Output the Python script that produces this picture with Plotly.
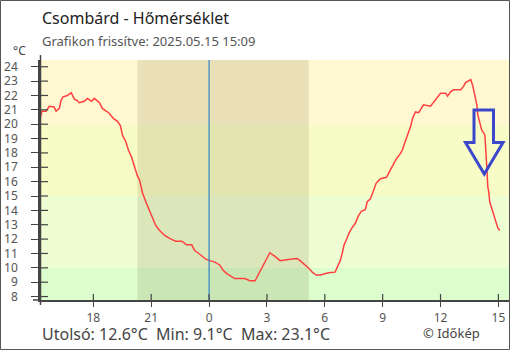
import plotly.graph_objects as go

# ---- data ----
times = [
    "2025-05-14 15:14", "2025-05-14 15:20", "2025-05-14 15:33", "2025-05-14 15:43", "2025-05-14 15:58",
    "2025-05-14 16:04", "2025-05-14 16:14", "2025-05-14 16:20", "2025-05-14 16:26", "2025-05-14 16:39",
    "2025-05-14 16:51", "2025-05-14 17:01", "2025-05-14 17:10", "2025-05-14 17:16", "2025-05-14 17:32",
    "2025-05-14 17:41", "2025-05-14 17:54", "2025-05-14 18:03", "2025-05-14 18:19", "2025-05-14 18:28",
    "2025-05-14 18:41", "2025-05-14 18:50", "2025-05-14 19:02", "2025-05-14 19:15", "2025-05-14 19:24",
    "2025-05-14 19:31", "2025-05-14 19:40", "2025-05-14 19:49", "2025-05-14 19:59", "2025-05-14 20:08",
    "2025-05-14 20:17", "2025-05-14 20:24", "2025-05-14 20:33", "2025-05-14 20:45", "2025-05-14 20:55",
    "2025-05-14 21:04", "2025-05-14 21:14", "2025-05-14 21:26", "2025-05-14 21:42", "2025-05-14 21:57",
    "2025-05-14 22:16", "2025-05-14 22:35", "2025-05-14 22:50", "2025-05-14 23:06", "2025-05-14 23:15",
    "2025-05-14 23:25", "2025-05-14 23:37", "2025-05-14 23:50", "2025-05-15 00:02", "2025-05-15 00:18",
    "2025-05-15 00:33", "2025-05-15 00:43", "2025-05-15 00:55", "2025-05-15 01:11", "2025-05-15 01:20",
    "2025-05-15 01:51", "2025-05-15 02:07", "2025-05-15 02:23", "2025-05-15 02:29", "2025-05-15 02:38",
    "2025-05-15 02:44", "2025-05-15 02:54", "2025-05-15 03:00", "2025-05-15 03:09", "2025-05-15 03:25",
    "2025-05-15 03:41", "2025-05-15 04:12", "2025-05-15 04:34", "2025-05-15 04:43", "2025-05-15 04:59",
    "2025-05-15 05:11", "2025-05-15 05:21", "2025-05-15 05:33", "2025-05-15 05:46", "2025-05-15 06:11",
    "2025-05-15 06:32", "2025-05-15 06:39", "2025-05-15 06:48", "2025-05-15 06:54", "2025-05-15 07:00",
    "2025-05-15 07:07", "2025-05-15 07:16", "2025-05-15 07:25", "2025-05-15 07:35", "2025-05-15 07:44",
    "2025-05-15 07:54", "2025-05-15 08:06", "2025-05-15 08:12", "2025-05-15 08:22", "2025-05-15 08:28",
    "2025-05-15 08:34", "2025-05-15 08:40", "2025-05-15 08:53", "2025-05-15 09:12", "2025-05-15 09:21",
    "2025-05-15 09:33", "2025-05-15 09:43", "2025-05-15 09:55", "2025-05-15 10:02", "2025-05-15 10:08",
    "2025-05-15 10:14", "2025-05-15 10:20", "2025-05-15 10:27", "2025-05-15 10:33", "2025-05-15 10:42",
    "2025-05-15 10:52", "2025-05-15 11:07", "2025-05-15 11:29", "2025-05-15 11:38", "2025-05-15 11:51",
    "2025-05-15 12:00", "2025-05-15 12:16", "2025-05-15 12:22", "2025-05-15 12:31", "2025-05-15 12:41",
    "2025-05-15 13:03", "2025-05-15 13:12", "2025-05-15 13:18", "2025-05-15 13:34", "2025-05-15 13:40",
    "2025-05-15 13:46", "2025-05-15 13:53", "2025-05-15 13:56", "2025-05-15 14:02", "2025-05-15 14:08",
    "2025-05-15 14:18", "2025-05-15 14:21", "2025-05-15 14:24", "2025-05-15 14:27", "2025-05-15 14:30",
    "2025-05-15 14:33", "2025-05-15 14:40", "2025-05-15 14:46", "2025-05-15 14:52", "2025-05-15 14:58",
    "2025-05-15 15:04",
]
temps = [
    20.4, 20.9, 20.9, 21.25, 21.2,
    20.9, 21.1, 21.7, 21.9, 22.0,
    22.2, 21.75, 21.65, 21.5, 21.6,
    21.8, 21.6, 21.8, 21.5, 21.1,
    20.9, 20.75, 20.4, 20.2, 19.9,
    19.2, 18.85, 18.2, 17.7, 17.0,
    16.4, 16.1, 15.2, 14.5, 14.0,
    13.45, 12.95, 12.6, 12.25, 12.05,
    11.85, 11.85, 11.6, 11.6, 11.2,
    11.05, 10.8, 10.6, 10.5, 10.4,
    10.2, 9.85, 9.6, 9.4, 9.25,
    9.25, 9.1, 9.1, 9.35, 9.65,
    9.95, 10.4, 10.65, 11.05, 10.8,
    10.5, 10.6, 10.65, 10.5, 10.2,
    9.95, 9.7, 9.5, 9.5, 9.65,
    9.7, 10.05, 10.5, 11.0, 11.6,
    11.95, 12.45, 12.8, 13.1, 13.6,
    13.95, 14.05, 14.6, 14.8, 15.2,
    15.65, 15.9, 16.2, 16.3, 16.7,
    17.25, 17.6, 17.95, 18.25, 18.65,
    19.0, 19.45, 19.85, 20.4, 20.85,
    20.8, 21.35, 21.25, 21.5, 21.9,
    22.15, 22.15, 21.95, 22.25, 22.4,
    22.4, 22.65, 22.9, 23.1, 22.7,
    22.0, 21.35, 20.65, 20.2, 19.6,
    19.25, 18.4, 17.0, 15.65, 15.3,
    14.6, 14.1, 13.55, 13.1, 12.8,
    12.6,
]
x_ticks = ["2025-05-14 18:00", "2025-05-14 21:00", "2025-05-15 00:00", "2025-05-15 03:00",
           "2025-05-15 06:00", "2025-05-15 09:00", "2025-05-15 12:00", "2025-05-15 15:00"]
x_tick_labels = ["18", "21", "0", "3", "6", "9", "12", "15"]
y_ticks = list(range(8, 25))
x_range = ["2025-05-14 15:14", "2025-05-15 15:33"]
y_range = [7.76, 24.47]
bands = [(20, 24.47, "#FFF8D0"), (15, 20, "#F7FCC6"), (10, 15, "#EFFDD2"), (7.76, 10, "#DCFDCC")]
night = ("2025-05-14 20:17", "2025-05-15 05:10")
midnight = "2025-05-15 00:00"
title = "Csombárd - Hőmérséklet"
subtitle = "Grafikon frissítve: 2025.05.15 15:09"
footer = "Utolsó: 12.6°C  Min: 9.1°C  Max: 23.1°C"
credit = "© Időkép"

# ---- layout geometry (pixels) ----
W, H = 510, 350
L, R, T, B = 40, 509, 60, 300
def px(x):
    return (x - L) / (R - L)
def py(y):
    return (B - y) / (B - T)

FONT = "Noto Sans"
AX = "#444444"

fig = go.Figure()
fig.add_trace(go.Scatter(x=times, y=temps, mode="lines",
                         line=dict(color="#FF4040", width=1.5), hoverinfo="skip"))

shapes = []
for lo, hi, c in bands:
    shapes.append(dict(type="rect", xref="paper", yref="y", x0=0, x1=1, y0=lo, y1=hi,
                       fillcolor=c, line=dict(width=0), layer="below"))
shapes.append(dict(type="rect", xref="x", yref="paper", x0=night[0], x1=night[1], y0=0, y1=1,
                   fillcolor="rgba(60,50,0,0.11)", line=dict(width=0), layer="below"))
shapes.append(dict(type="line", xref="x", yref="paper", x0=midnight, x1=midnight, y0=0, y1=1,
                   line=dict(color="#2F86C4", width=1.2)))
# inside tick marks (ticks cross the axes in the reference)
for t in y_ticks:
    shapes.append(dict(type="line", xref="paper", yref="y", x0=0, x1=px(48), y0=t, y1=t,
                       line=dict(color=AX, width=1.2)))
for t in x_ticks:
    shapes.append(dict(type="line", xref="x", yref="paper", x0=t, x1=t, y0=0, y1=py(294),
                       line=dict(color=AX, width=1.2)))
# axis line extensions
shapes.append(dict(type="line", xref="paper", yref="paper", x0=px(40.5), x1=px(40.5),
                   y0=py(55), y1=py(305), line=dict(color=AX, width=1.5)))
shapes.append(dict(type="line", xref="paper", yref="paper", x0=px(33), x1=px(40.5),
                   y0=py(300), y1=py(300), line=dict(color=AX, width=1.5)))
# blue down arrow
arrow = [(474, 110), (493.5, 110), (493.5, 142.5), (503, 142.5), (484.3, 174),
         (465.5, 142.5), (474, 142.5)]
path = "M " + " L ".join(f"{px(a)},{py(b)}" for a, b in arrow) + " Z"
shapes.append(dict(type="path", xref="paper", yref="paper", path=path,
                   line=dict(color="#3C48CC", width=3), fillcolor="rgba(0,0,0,0)"))
# outer frame
shapes.append(dict(type="rect", xref="paper", yref="paper", x0=px(0.5), x1=px(509.5),
                   y0=py(349.5), y1=py(0.5), line=dict(color="#555555", width=1)))

annotations = [
    dict(text=title, x=px(40), y=py(18), xref="paper", yref="paper", xanchor="left", yanchor="middle",
         showarrow=False, font=dict(family=FONT, size=16, color="#222222")),
    dict(text=subtitle, x=px(40), y=py(41), xref="paper", yref="paper", xanchor="left", yanchor="middle",
         showarrow=False, font=dict(family=FONT, size=13, color="#555555")),
    dict(text="°C", x=px(11), y=py(51), xref="paper", yref="paper", xanchor="left", yanchor="middle",
         showarrow=False, font=dict(family=FONT, size=12, color=AX)),
    dict(text=footer, x=px(40), y=py(334), xref="paper", yref="paper", xanchor="left", yanchor="middle",
         showarrow=False, font=dict(family=FONT, size=16, color=AX)),
    dict(text=credit, x=px(482), y=py(333), xref="paper", yref="paper", xanchor="right", yanchor="middle",
         showarrow=False, font=dict(family=FONT, size=13, color=AX)),
]

fig.update_layout(
    width=W, height=H, autosize=False,
    margin=dict(l=L, r=W - R, t=T, b=H - B, pad=0),
    paper_bgcolor="white", plot_bgcolor="white",
    showlegend=False, shapes=shapes, annotations=annotations,
    font=dict(family=FONT, color=AX),
    xaxis=dict(type="date", range=x_range, tickvals=x_ticks, ticktext=x_tick_labels,
               ticks="outside", ticklen=5, tickwidth=1.2, tickcolor=AX,
               showline=True, linecolor=AX, linewidth=1.5, showgrid=False, zeroline=False,
               tickfont=dict(family=FONT, size=12, color="#555555"), ticklabelstandoff=1,
               fixedrange=True),
    yaxis=dict(range=y_range, tickvals=y_ticks, ticks="outside", ticklen=7, tickwidth=1.2,
               tickcolor=AX, showline=True, linecolor=AX, linewidth=1.5, showgrid=False,
               zeroline=False, tickfont=dict(family=FONT, size=12, color="#555555"),
               ticklabelstandoff=11, fixedrange=True),
)

fig.write_html("out.html")
